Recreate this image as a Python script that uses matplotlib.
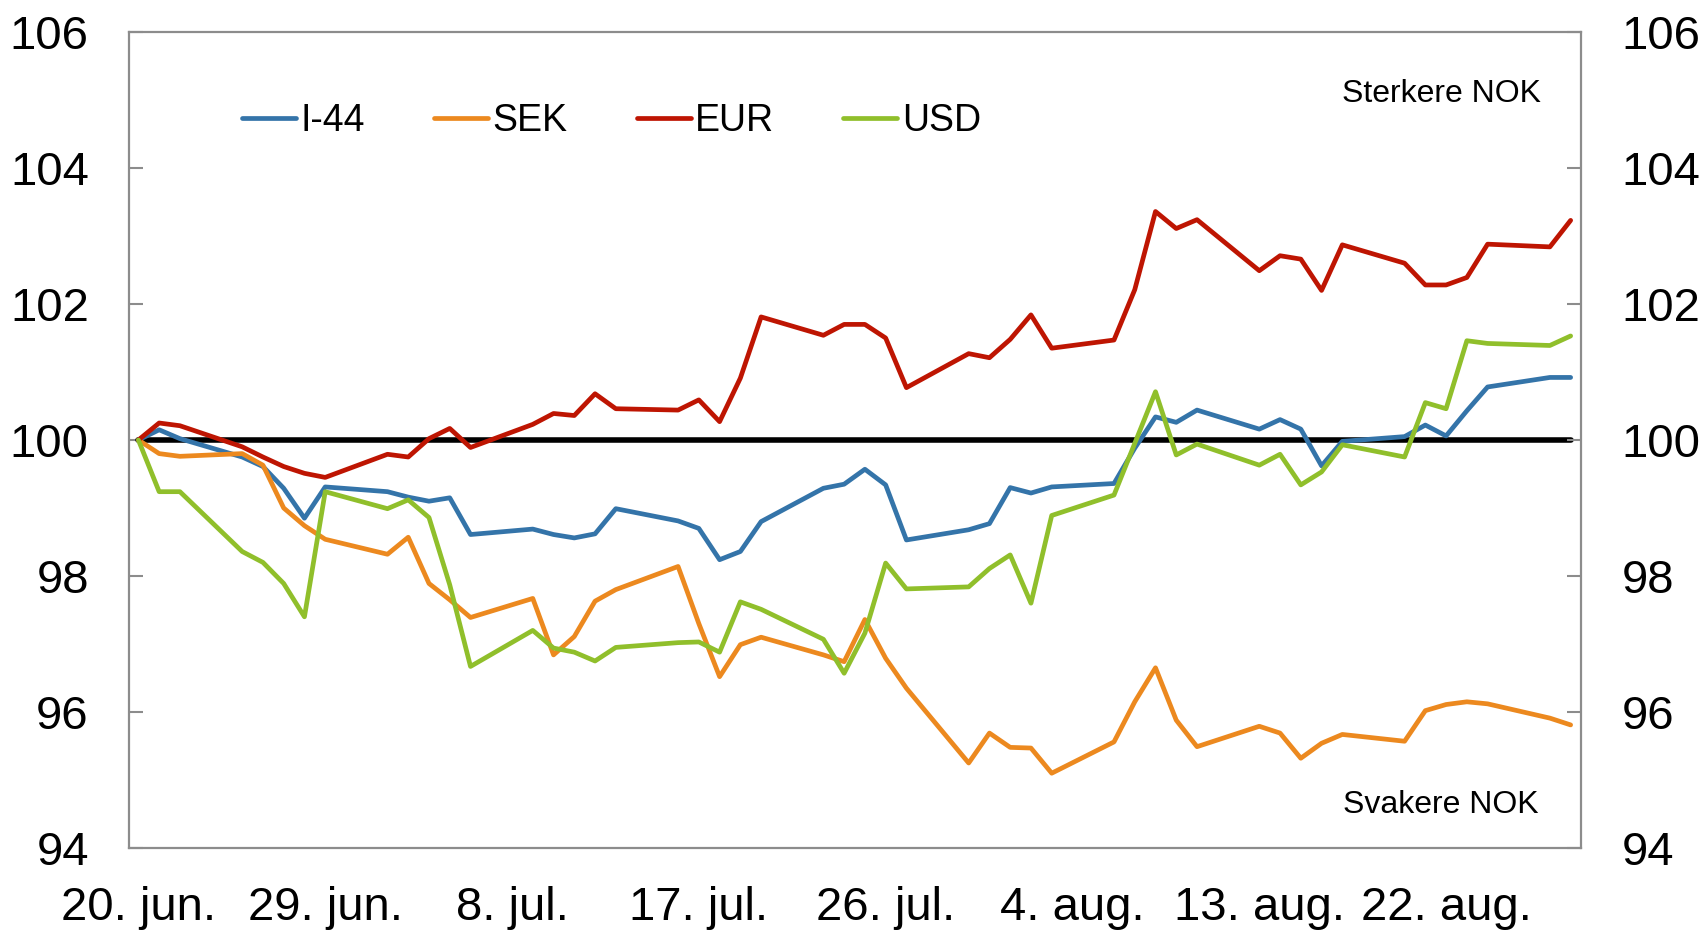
import matplotlib
matplotlib.use("Agg")
import matplotlib.pyplot as plt
import pandas as pd

plt.rcParams['font.family'] = ['Liberation Sans', 'DejaVu Sans']

# business days, 20 jun - 28 aug 2018
dates = pd.bdate_range("2018-06-20", "2018-08-28")

i44 = [100.00, 100.15, 100.02, 99.75, 99.61, 99.29, 98.85, 99.31, 99.24, 99.16,
       99.10, 99.15, 98.61, 98.69, 98.61, 98.56, 98.62, 98.99, 98.81, 98.70,
       98.24, 98.36, 98.80, 99.29, 99.35, 99.57, 99.34, 98.53, 98.68, 98.77,
       99.30, 99.22, 99.31, 99.36, 99.88, 100.34, 100.26, 100.44, 100.16, 100.30,
       100.16, 99.62, 99.98, 100.05, 100.22, 100.06, 100.43, 100.78, 100.92, 100.92]
sek = [100.00, 99.80, 99.76, 99.80, 99.63, 99.00, 98.74, 98.54, 98.32, 98.57,
       97.89, 97.65, 97.39, 97.67, 96.84, 97.11, 97.63, 97.80, 98.14, 97.30,
       96.52, 96.99, 97.10, 96.84, 96.74, 97.36, 96.79, 96.35, 95.25, 95.69,
       95.48, 95.47, 95.10, 95.56, 96.15, 96.65, 95.88, 95.49, 95.79, 95.69,
       95.32, 95.54, 95.67, 95.57, 96.02, 96.11, 96.15, 96.12, 95.91, 95.81]
eur = [100.00, 100.25, 100.21, 99.90, 99.75, 99.61, 99.51, 99.45, 99.79, 99.75,
       100.02, 100.17, 99.89, 100.23, 100.39, 100.36, 100.68, 100.46, 100.44, 100.59,
       100.27, 100.91, 101.81, 101.54, 101.70, 101.70, 101.50, 100.77, 101.27, 101.21,
       101.48, 101.84, 101.35, 101.47, 102.21, 103.36, 103.11, 103.24, 102.49, 102.71,
       102.66, 102.20, 102.87, 102.60, 102.28, 102.28, 102.39, 102.88, 102.84, 103.23]
usd = [100.00, 99.24, 99.24, 98.36, 98.20, 97.89, 97.40, 99.24, 98.99, 99.12,
       98.86, 97.87, 96.67, 97.20, 96.94, 96.88, 96.75, 96.95, 97.02, 97.03,
       96.88, 97.62, 97.51, 97.07, 96.57, 97.16, 98.19, 97.81, 97.84, 98.11,
       98.31, 97.60, 98.89, 99.19, 99.95, 100.71, 99.78, 99.94, 99.63, 99.79,
       99.34, 99.53, 99.93, 99.75, 100.55, 100.46, 101.46, 101.42, 101.39, 101.53]

tick_dates = ["2018-06-20", "2018-06-29", "2018-07-08", "2018-07-17",
              "2018-07-26", "2018-08-04", "2018-08-13", "2018-08-22"]
tick_labels = ["20. jun.", "29. jun.", "8. jul.", "17. jul.",
               "26. jul.", "4. aug.", "13. aug.", "22. aug."]

x = (dates - dates[0]).days
xt = (pd.to_datetime(tick_dates) - dates[0]).days

fig = plt.figure(figsize=(17.07, 9.33), dpi=100)
ax = fig.add_axes([0.0756, 0.0911, 0.8506, 0.8746])

ax.hlines(100, x[0], x[-1], color='black', lw=4.0, capstyle='round', zorder=2)

series = [("I-44", i44, "#3474A9"), ("SEK", sek, "#EC891F"),
          ("EUR", eur, "#BE1502"), ("USD", usd, "#90BF2B")]
for name, vals, col in series:
    ax.plot(x, vals, color=col, lw=3.4, label=name, zorder=3,
            solid_capstyle='round', solid_joinstyle='round')

ax.set_xlim(-0.45, 69.5)
ax.set_ylim(94, 106)
ax.set_yticks(range(94, 107, 2))
ax.set_xticks(xt)
ax.set_xticklabels(tick_labels)

gray = "#8C8C8C"
for s in ax.spines.values():
    s.set_color(gray)
    s.set_linewidth(1.6)
ax.tick_params(axis='y', direction='in', length=10, width=1.5, color=gray,
               labelsize=34, pad=29)
ax.tick_params(axis='x', length=0, labelsize=34, pad=27.5)

ax2 = ax.twinx()
ax2.set_ylim(94, 106)
ax2.set_yticks(range(94, 107, 2))
for s in ax2.spines.values():
    s.set_visible(False)
ax2.tick_params(axis='y', direction='in', length=10, width=1.5, color=gray,
                labelsize=34, pad=29)

ax.text(0.9725, 0.924, "Sterkere NOK", transform=ax.transAxes,
        ha='right', va='center', fontsize=23)
ax.text(0.9705, 0.053, "Svakere NOK", transform=ax.transAxes,
        ha='right', va='center', fontsize=23)

ax.legend(loc='center left', bbox_to_anchor=(0.0778, 0.891), ncol=4,
          frameon=False, fontsize=27, borderpad=0, borderaxespad=0,
          handlelength=1.44, handletextpad=0.12, columnspacing=1.84)

fig.savefig("out.png", dpi=100)
